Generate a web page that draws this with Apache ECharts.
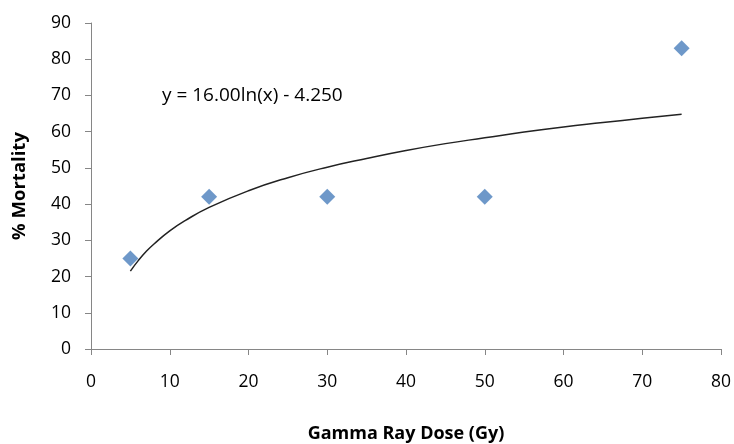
<!DOCTYPE html>
<html><head><meta charset="utf-8">
<script src="https://cdn.jsdelivr.net/npm/echarts@6/dist/echarts.min.js"></script>
<style>html,body{margin:0;padding:0;background:#fff}#c{width:734px;height:444px}</style>
</head><body><div id="c"></div>
<script>
const doseGy = [5, 15, 30, 50, 75];
const mortalityPct = [25, 42, 42, 42, 83];
const trendX = [5, 6, 7, 8, 10, 12, 15, 20, 25, 30, 35, 40, 45, 50, 55, 60, 65, 70, 75];
const trendY = [21.5, 24.4, 26.9, 29.0, 32.6, 35.5, 39.1, 43.7, 47.3, 50.2, 52.6, 54.8, 56.7, 58.3, 59.9, 61.3, 62.5, 63.7, 64.8];
const trendLabel = 'y = 16.00ln(x) - 4.250';
const xTitle = 'Gamma Ray Dose (Gy)';
const yTitle = '% Mortality';

const font = 'Open Sans';
const axisColor = '#868686';
const chart = echarts.init(document.getElementById('c'));
chart.setOption({
  animation: false,
  textStyle: {fontFamily: font},
  grid: {left: 91, right: 13, top: 23, bottom: 95, containLabel: false, outerBoundsMode: 'none'},
  xAxis: {
    type: 'value', min: 0, max: 80, interval: 10,
    name: xTitle, nameLocation: 'middle', nameGap: 76,
    nameTextStyle: {fontFamily: font, fontSize: 18, fontWeight: 'bold', color: '#000'},
    axisLine: {show: true, lineStyle: {color: axisColor, width: 1}},
    axisTick: {show: true, length: 6, lineStyle: {color: axisColor}},
    axisLabel: {fontSize: 17.5, color: '#000', margin: 24},
    splitLine: {show: false}
  },
  yAxis: {
    type: 'value', min: 0, max: 90, interval: 10,
    name: yTitle, nameLocation: 'middle', nameGap: 62, nameRotate: 90,
    nameTextStyle: {fontFamily: font, fontSize: 18.5, fontWeight: 'bold', color: '#000'},
    axisLine: {show: true, lineStyle: {color: axisColor, width: 1}},
    axisTick: {show: true, length: 6, lineStyle: {color: axisColor}},
    axisLabel: {fontSize: 17.5, color: '#000', margin: 20},
    splitLine: {show: false}
  },
  series: [
    {
      type: 'line', smooth: true, showSymbol: false, symbol: 'none',
      data: trendX.map((x, i) => [x, trendY[i]]),
      lineStyle: {color: '#222', width: 1.5}, z: 1
    },
    {
      type: 'scatter', symbol: 'diamond', symbolSize: 16,
      data: doseGy.map((x, i) => [x, mortalityPct[i]]),
      itemStyle: {color: '#4a7ebb'}, z: 2
    }
  ],
  graphic: [{
    type: 'text', left: 162, top: 86,
    style: {text: trendLabel, fontFamily: font, fontSize: 19, fill: '#000'}
  }]
});
</script></body></html>
